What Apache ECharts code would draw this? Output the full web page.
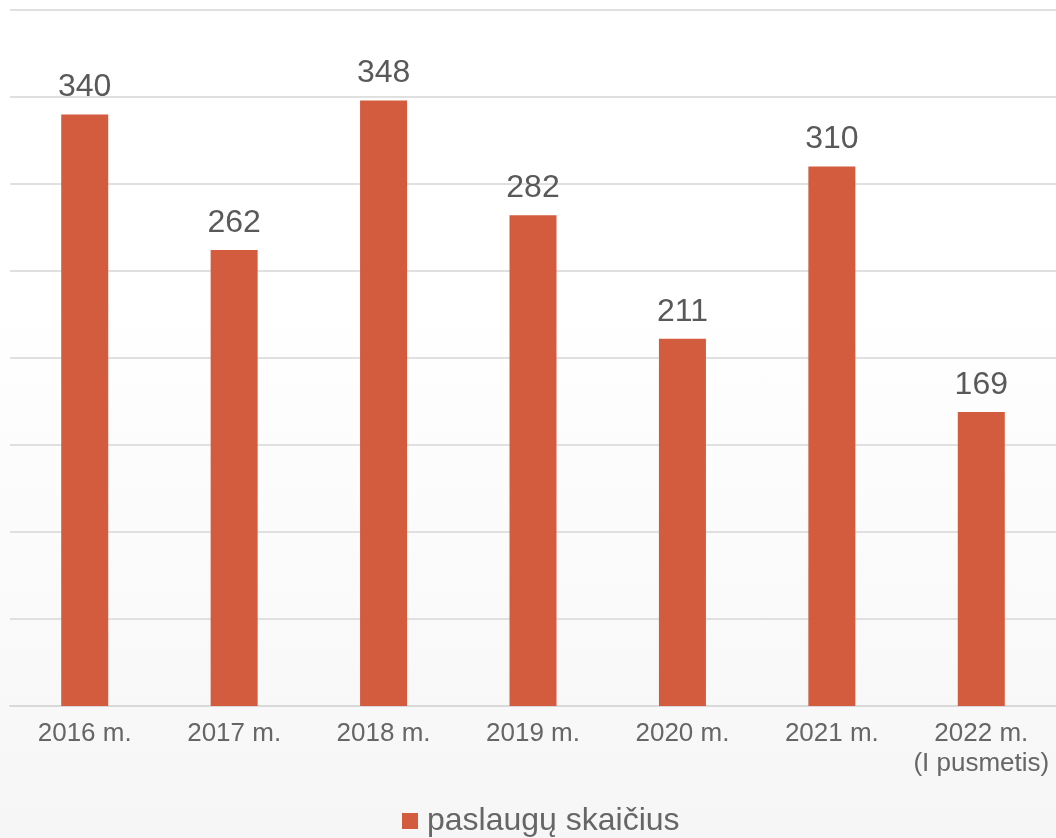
<!DOCTYPE html>
<html>
<head>
<meta charset="utf-8">
<script src="https://cdn.jsdelivr.net/npm/echarts@6/dist/echarts.min.js"></script>
<style>
  html, body { margin: 0; padding: 0; }
  #chart {
    width: 1056px;
    height: 838px;
    background: linear-gradient(to bottom, #ffffff 0%, #ffffff 35%, #f6f6f6 100%);
  }
</style>
</head>
<body>
<div id="chart"></div>
<script>
// duomenys
const years = ["2016 m.", "2017 m.", "2018 m.", "2019 m.", "2020 m.", "2021 m.", "2022 m.\n(I pusmetis)"];
const services = [340, 262, 348, 282, 211, 310, 169];
const seriesName = "paslaugų skaičius";

const chart = echarts.init(document.getElementById("chart"));
chart.setOption({
  backgroundColor: "transparent",
  textStyle: { fontFamily: "Liberation Sans, Arial, sans-serif" },
  grid: { left: 10, right: -4, top: 10, bottom: 132 },
  legend: {
    bottom: -4,
    left: 397,
    itemWidth: 16,
    itemHeight: 16,
    icon: "rect",
    textStyle: { fontSize: 32, color: "#666666", padding: [0, 0, 0, 4] },
    data: [seriesName],
  },
  xAxis: {
    type: "category",
    data: years,
    axisTick: { show: false },
    axisLine: { lineStyle: { color: "#d9d9d9", width: 2 } },
    axisLabel: {
      fontSize: 26,
      color: "#666666",
      margin: 13,
      lineHeight: 30,
      interval: 0,
    },
  },
  yAxis: {
    type: "value",
    min: 0,
    max: 400,
    interval: 50,
    axisLabel: { show: false },
    axisLine: { show: false },
    axisTick: { show: false },
    splitLine: { lineStyle: { color: "#e0e0e0", width: 2 } },
  },
  series: [
    {
      name: seriesName,
      type: "bar",
      data: services,
      barWidth: 47,
      itemStyle: { color: "#d35b3e" },
      label: {
        show: true,
        position: "top",
        distance: 11,
        fontSize: 32,
        color: "#595959",
      },
    },
  ],
});
</script>
</body>
</html>
